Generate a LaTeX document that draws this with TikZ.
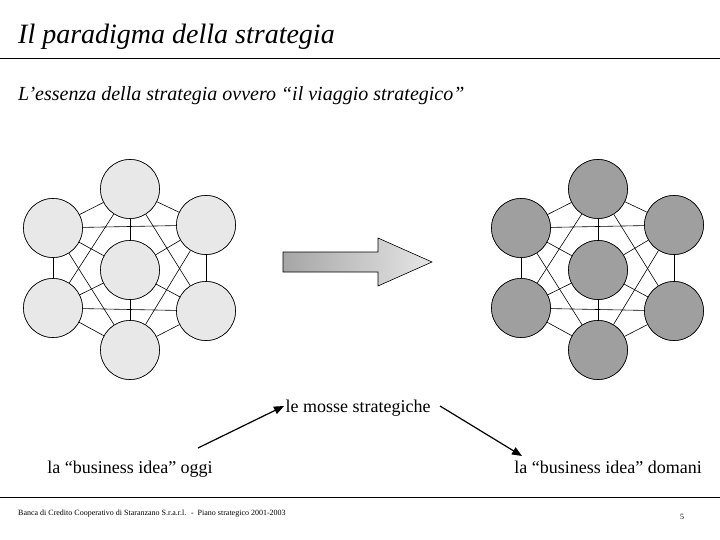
\documentclass[tikz,border=0pt]{standalone}
\usepackage{fontspec}
\setmainfont{Liberation Serif}
\usetikzlibrary{arrows.meta}
\begin{document}
\begin{tikzpicture}[x=1pt,y=-1pt,
  circ/.style={circle,draw,line width=0.6pt,minimum size=59pt,inner sep=0pt},
  light/.style={circ,fill=gray!18},
  dark/.style={circ,fill=gray!75},
  edge/.style={line width=0.6pt},
  lbl/.style={font=\fontsize{18}{20}\selectfont,inner sep=0pt,anchor=base},
  conn/.style={line width=1.2pt,-{Triangle[length=10pt,width=8pt]}}]
\useasboundingbox (0,0) rectangle (720,540);
\node[anchor=base west,inner sep=0pt,font=\fontsize{28}{30}\selectfont\itshape] (title) at (18,44) {Il paradigma della strategia};
\draw[line width=0.8pt] (0,58) coordinate (l1a) -- (720,58) coordinate (l1b);
\node[anchor=base west,inner sep=0pt,font=\fontsize{20}{22}\selectfont\itshape] (sub) at (18,101) {L’essenza della strategia ovvero “il viaggio strategico”};
\foreach \p/\dx/\st in {L/0/light,R/468/dark}{
  \begin{scope}[xshift=\dx]
  \node[\st] (\p t) at (130,189) {};
  \node[\st] (\p ul) at (53,228) {};
  \node[\st] (\p ur) at (206,225) {};
  \node[\st] (\p c) at (130,270) {};
  \node[\st] (\p ll) at (53,308) {};
  \node[\st] (\p lr) at (206,311) {};
  \node[\st] (\p b) at (130,350) {};
  \end{scope}
  \foreach \a/\b in {t/ur,ur/lr,lr/b,b/ll,ll/ul,ul/t,t/lr,lr/ll,ll/t,ur/b,b/ul,ul/ur,c/t,c/ur,c/lr,c/b,c/ll,c/ul}
    \draw[edge] (\p\a) -- (\p\b);
  \foreach \n in {t,ul,ur,c,ll,lr,b}
    \node[\st] at (\p\n) {};
}
\shade[left color=gray!70,right color=gray!20,draw,line width=0.6pt]
  (283,252) -- (378,252) -- (378,238) -- (432,262) -- (378,286) -- (378,272) -- (283,272) -- cycle;
\node[lbl] (moves) at (358,412) {le mosse strategiche};
\node[lbl] (oggi) at (130,473) {la “business idea” oggi};
\node[lbl] (domani) at (608,473) {la “business idea” domani};
\coordinate (a1s) at (198,448); \coordinate (a1e) at (284,406);
\coordinate (a2s) at (440,406); \coordinate (a2e) at (522,456);
\draw[conn] (a1s) -- (a1e);
\draw[conn] (a2s) -- (a2e);
\draw[line width=0.8pt] (0,497) coordinate (l2a) -- (720,497) coordinate (l2b);
\node[anchor=west,inner sep=0pt,font=\fontsize{8}{9}\selectfont] (foot) at (18,514) {Banca di Credito Cooperativo di Staranzano S.r.a.r.l. \ - \ Piano strategico 2001-2003};
\node[inner sep=0pt,font=\fontsize{8}{9}\selectfont] (pg) at (682,517) {5};
\end{tikzpicture}
\end{document}
